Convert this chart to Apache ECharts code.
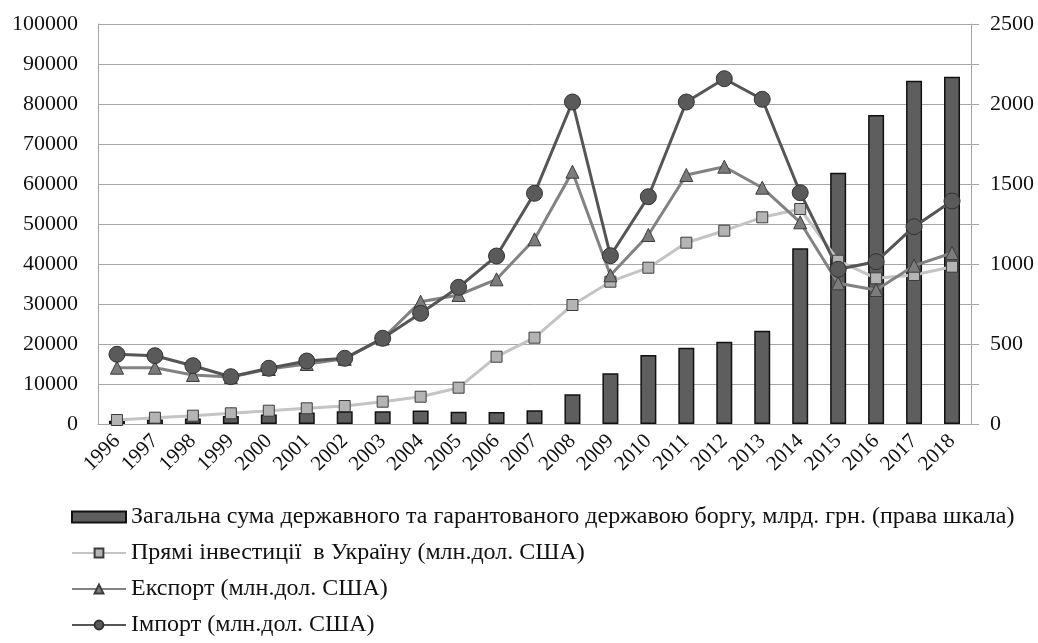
<!DOCTYPE html>
<html>
<head>
<meta charset="utf-8">
<script src="https://cdn.jsdelivr.net/npm/echarts@6/dist/echarts.min.js"></script>
<style>
  html, body { margin: 0; padding: 0; background: #fff; }
  #chart { width: 1038px; height: 643px; }
</style>
</head>
<body>
<div id="chart"></div>
<script>
// роки
const years = ['1996', '1997', '1998', '1999', '2000', '2001', '2002', '2003', '2004', '2005', '2006', '2007',
  '2008', '2009', '2010', '2011', '2012', '2013', '2014', '2015', '2016', '2017', '2018']

// борг, млрд. грн (права шкала)
const debt = [20, 28, 35, 50, 60, 72, 80, 80, 85, 76, 75, 86,
  186, 317, 431, 477, 514, 583, 1098, 1571, 1931, 2146, 2171]

// прямі інвестиції, млн. дол. США
const invest = [1000, 1575, 2075, 2675, 3325, 3925, 4500, 5575, 6825, 9075, 16825, 21575,
  29750, 35575, 39075, 45325, 48325, 51675, 53750, 40825, 36425, 37250, 39325]

// експорт, млн. дол. США
const exportVals = [14075, 14075, 12250, 11750, 13750, 15000, 16300, 21375, 30575, 32250, 36175, 46175,
  63075, 37175, 47250, 62250, 64325, 59075, 50425, 35175, 33500, 39575, 42750]

// імпорт, млн. дол. США
const importVals = [17425, 17075, 14575, 11825, 13925, 15750, 16425, 21425, 27675, 34175, 42000, 57675,
  80500, 42075, 56825, 80500, 86325, 81175, 57825, 38675, 40575, 49325, 55750]

const names = [
  'Загальна сума державного та гарантованого державою боргу, млрд. грн. (права шкала)',
  'Прямі інвестиції  в Україну (млн.дол. США)',
  'Експорт (млн.дол. США)',
  'Імпорт (млн.дол. США)'
]

const font = '"Liberation Serif", "Times New Roman", serif'
const gridColor = '#a6a6a6'

const chart = echarts.init(document.getElementById('chart'))

const option = {
  animation: false,
  backgroundColor: '#fff',
  textStyle: { fontFamily: font, color: '#111' },
  grid: { left: 98, right: 67, top: 24, bottom: 219 },
  legend: {
    orient: 'vertical',
    left: 71,
    top: 505,
    padding: 0,
    itemGap: 12,
    itemWidth: 54,
    itemHeight: 11,
    textStyle: { fontFamily: font, fontSize: 24, color: '#111', lineHeight: 24 },
    data: [
      { name: names[0], icon: 'rect' },
      names[1],
      names[2],
      names[3]
    ]
  },
  xAxis: {
    type: 'category',
    data: years,
    axisLine: { lineStyle: { color: gridColor, width: 1 } },
    axisTick: { show: false },
    axisLabel: {
      rotate: 45,
      margin: 14,
      fontFamily: font,
      fontSize: 21,
      color: '#111',
      interval: 0
    }
  },
  yAxis: [
    {
      type: 'value',
      min: 0,
      max: 100000,
      interval: 10000,
      axisLine: { show: true, lineStyle: { color: gridColor } },
      axisTick: { show: false },
      splitLine: { lineStyle: { color: gridColor, width: 1 } },
      axisLabel: {
        margin: 20,
        fontFamily: font,
        fontSize: 22,
        color: '#111',
        formatter: v => String(v)
      }
    },
    {
      type: 'value',
      min: 0,
      max: 2500,
      interval: 250,
      position: 'right',
      axisLine: { show: true, lineStyle: { color: gridColor } },
      axisTick: { show: true, length: 8, lineStyle: { color: gridColor } },
      splitLine: { show: false },
      axisLabel: {
        margin: 19,
        fontFamily: font,
        fontSize: 22,
        color: '#111',
        formatter: v => (v % 500 === 0 ? String(v) : '')
      }
    }
  ],
  series: [
    {
      name: names[0],
      type: 'bar',
      yAxisIndex: 1,
      data: debt,
      barWidth: 16,
      itemStyle: { color: '#5e5e5e', borderColor: '#111', borderWidth: 1.5 }
    },
    {
      name: names[1],
      type: 'line',
      data: invest,
      symbol: 'rect',
      symbolSize: 11,
      lineStyle: { color: '#c4c4c4', width: 3 },
      itemStyle: { color: '#b4b4b4', borderColor: '#3c3c3c', borderWidth: 1 }
    },
    {
      name: names[2],
      type: 'line',
      data: exportVals,
      symbol: 'triangle',
      symbolSize: 13,
      lineStyle: { color: '#828282', width: 3 },
      itemStyle: { color: '#7c7c7c', borderColor: '#3c3c3c', borderWidth: 1 }
    },
    {
      name: names[3],
      type: 'line',
      data: importVals,
      symbol: 'circle',
      symbolSize: 16,
      lineStyle: { color: '#555555', width: 3 },
      itemStyle: { color: '#5a5a5a', borderColor: '#333', borderWidth: 1 }
    }
  ]
}

chart.setOption(option)
</script>
</body>
</html>
